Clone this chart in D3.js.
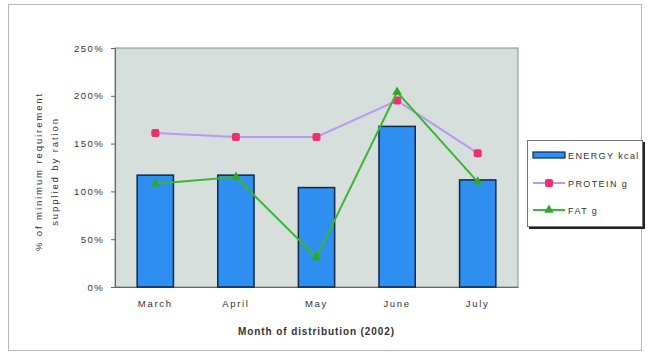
<!DOCTYPE html>
<html>
<head>
<meta charset="utf-8">
<script src="https://cdn.jsdelivr.net/npm/d3@7"></script>
<style>
  html, body { margin: 0; padding: 0; background: #fff; }
  svg { display: block; font-family: "Liberation Sans", Arial, sans-serif; }
</style>
</head>
<body>
<svg id="chart" width="647" height="354"></svg>
<script>
// Ration coverage by month of distribution (2002)
const months = ["March", "April", "May", "June", "July"];
const energy = [117, 117, 104, 168, 112];   // ENERGY kcal, % of requirement
const protein = [161, 157, 157, 195, 140];  // PROTEIN g
const fat = [108, 115, 31, 204, 110];       // FAT g
const yTicks = [0, 50, 100, 150, 200, 250];
const legendLabels = ["ENERGY kcal", "PROTEIN g", "FAT g"];

const svg = d3.select("#chart");

// outer chart frame
svg.append("rect")
  .attr("x", 8.5).attr("y", 4.5).attr("width", 633).attr("height", 346)
  .attr("fill", "#fff").attr("stroke", "#b8b8b8").attr("stroke-width", 1);

const plot = { left: 115, top: 48, right: 518, bottom: 287 };

const x = d3.scaleBand().domain(months).range([plot.left, plot.right]).paddingInner(0.55).paddingOuter(0.275);
const y = d3.scaleLinear().domain([0, 250]).range([plot.bottom, plot.top]);

// plot area
svg.append("rect")
  .attr("x", plot.left).attr("y", plot.top)
  .attr("width", plot.right - plot.left).attr("height", plot.bottom - plot.top)
  .attr("fill", "#d6dfdb").attr("stroke", "#8c8c8c").attr("stroke-width", 1);

// y axis
const yAxis = svg.append("g")
  .attr("transform", `translate(${plot.left},0)`)
  .call(d3.axisLeft(y).tickValues(yTicks).tickFormat(d => d + "%").tickSize(4).tickPadding(7));
yAxis.select(".domain").attr("stroke", "#666");
yAxis.selectAll(".tick line").attr("stroke", "#666");
yAxis.selectAll("text").attr("font-size", 9.5).attr("letter-spacing", 1.4).attr("fill", "#333");

// x axis
const xAxis = svg.append("g")
  .attr("transform", `translate(0,${plot.bottom})`)
  .call(d3.axisBottom(x).tickSize(0).tickPadding(13));
xAxis.select(".domain").attr("stroke", "#666");
xAxis.selectAll("text").attr("font-size", 9.5).attr("letter-spacing", 1.7).attr("fill", "#333");

// bars
svg.append("g").selectAll("rect").data(energy).join("rect")
  .attr("x", (d, i) => x(months[i]))
  .attr("y", d => y(d))
  .attr("width", x.bandwidth())
  .attr("height", d => y(0) - y(d))
  .attr("fill", "#2f8ff0")
  .attr("stroke", "#0d2a4a").attr("stroke-width", 1.5);

const cx = i => x(months[i]) + x.bandwidth() / 2;

// protein line with square markers
svg.append("path").datum(protein)
  .attr("fill", "none").attr("stroke", "#b89af0").attr("stroke-width", 2)
  .attr("d", d3.line().x((d, i) => cx(i)).y(d => y(d)));
svg.append("g").selectAll("rect").data(protein).join("rect")
  .attr("x", (d, i) => cx(i) - 4).attr("y", d => y(d) - 4)
  .attr("width", 8).attr("height", 8).attr("rx", 2)
  .attr("fill", "#f0306e");

// fat line with triangle markers
svg.append("path").datum(fat)
  .attr("fill", "none").attr("stroke", "#3cb534").attr("stroke-width", 2)
  .attr("d", d3.line().x((d, i) => cx(i)).y(d => y(d)));
svg.append("g").selectAll("path").data(fat).join("path")
  .attr("transform", (d, i) => `translate(${cx(i)},${y(d)})`)
  .attr("d", d3.symbol(d3.symbolTriangle, 40))
  .attr("fill", "#2ea82a");

// axis titles
svg.append("text")
  .attr("x", (plot.left + plot.right) / 2).attr("y", 335)
  .attr("text-anchor", "middle").attr("font-size", 10).attr("font-weight", "bold")
  .attr("letter-spacing", 0.9).attr("fill", "#333")
  .text("Month of distribution (2002)");

const yt = svg.append("text")
  .attr("transform", `translate(42,${(plot.top + plot.bottom) / 2 + 4}) rotate(-90)`)
  .attr("text-anchor", "middle").attr("font-size", 9.5).attr("letter-spacing", 1.9).attr("fill", "#333");
yt.append("tspan").attr("x", 0).attr("dy", 0).text("% of minimum requirement");
yt.append("tspan").attr("x", 0).attr("dy", 16).text("supplied by ration");

// legend
const lg = svg.append("g").attr("transform", "translate(527,140)");
lg.append("rect").attr("x", 2).attr("y", 2).attr("width", 116).attr("height", 87).attr("fill", "#222");
lg.append("rect").attr("x", 0.5).attr("y", 0.5).attr("width", 115).attr("height", 86)
  .attr("fill", "#fff").attr("stroke", "#777");
const rows = [15, 43, 70];
lg.append("rect").attr("x", 6).attr("y", rows[0] - 3).attr("width", 32).attr("height", 6)
  .attr("fill", "#2f8ff0").attr("stroke", "#0d2a4a").attr("stroke-width", 1.2);
lg.append("line").attr("x1", 6).attr("x2", 38).attr("y1", rows[1]).attr("y2", rows[1])
  .attr("stroke", "#b89af0").attr("stroke-width", 2);
lg.append("rect").attr("x", 18).attr("y", rows[1] - 4).attr("width", 8).attr("height", 8).attr("rx", 2).attr("fill", "#f0306e");
lg.append("line").attr("x1", 6).attr("x2", 38).attr("y1", rows[2]).attr("y2", rows[2])
  .attr("stroke", "#3cb534").attr("stroke-width", 2);
lg.append("path").attr("transform", `translate(22,${rows[2]})`)
  .attr("d", d3.symbol(d3.symbolTriangle, 40)).attr("fill", "#2ea82a");
lg.selectAll("text.lbl").data(legendLabels).join("text")
  .attr("class", "lbl")
  .attr("x", 41).attr("y", (d, i) => rows[i] + 3.5)
  .attr("font-size", 9).attr("letter-spacing", 1.4).attr("fill", "#333")
  .text(d => d);
</script>
</body>
</html>
